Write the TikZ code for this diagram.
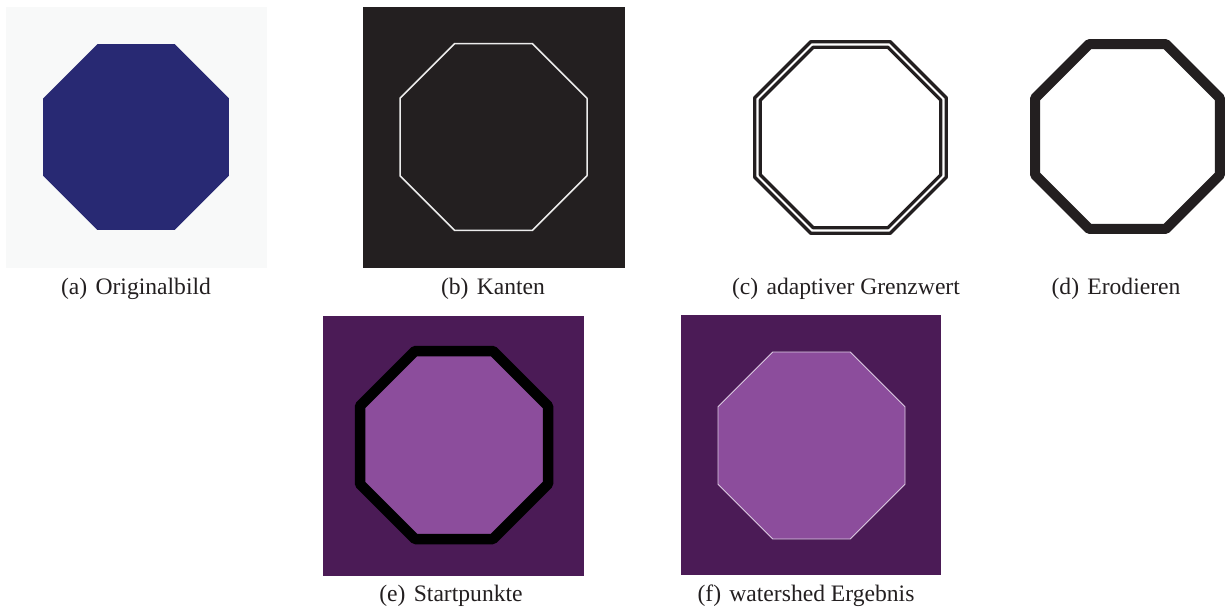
\documentclass[tikz,border=0pt]{standalone}
\usepackage{fontspec}
\setmainfont{Liberation Serif}
\usepackage{xcolor}
\usetikzlibrary{shapes.geometric}

\definecolor{paper}{RGB}{248,249,249}
\definecolor{navy}{RGB}{40,41,115}
\definecolor{coal}{RGB}{35,31,32}
\definecolor{edgeline}{RGB}{236,236,236}
\definecolor{plumdark}{RGB}{75,27,86}
\definecolor{plumlight}{RGB}{140,77,156}
\definecolor{plumedge}{RGB}{222,205,228}
\definecolor{captext}{RGB}{35,31,32}

\begin{document}
\begin{tikzpicture}[
  x=1pt, y=-1pt,
  font=\fontsize{23.6}{28}\selectfont,
  octo/.style={regular polygon, regular polygon sides=8, inner sep=0pt,
               outer sep=0pt, line join=round},
  orig/.style={octo, fill=navy, minimum size=201.3},
  edges/.style={octo, draw=edgeline, line width=1.5, minimum size=202.4},
  thresh/.style={octo, draw=coal, line width=3.3},
  eroded/.style={octo, draw=coal, line width=10, minimum size=200.2},
  seeds/.style={octo, fill=plumlight, draw=black, line width=10.5, minimum size=203.5},
  basin/.style={octo, fill=plumlight, draw=plumedge, line width=0.8, minimum size=202.4},
  subcap/.style={anchor=base, text=captext},
]
\useasboundingbox (0,0) rectangle (1226,610);

\fill[paper] (6,7) rectangle (267,268);
\node[orig] (octA) at (136,137) {};
\node[subcap] (capA) at (136,294) {(a)\hspace{0.35em}Originalbild};

\fill[coal] (363,7) rectangle (625,268);
\node[edges] (octB) at (493.5,137) {};
\node[subcap] (capB) at (493,294) {(b)\hspace{0.35em}Kanten};

\node[thresh, minimum size=207.4] (octCout) at (850.5,137.5) {};
\node[thresh, minimum size=195.3] (octCin) at (850.5,137.5) {};
\node[subcap] (capC) at (846,294) {(c)\hspace{0.35em}adaptiver Grenzwert};

\node[eroded] (octD) at (1127.5,136.5) {};
\node[subcap] (capD) at (1116,294) {(d)\hspace{0.35em}Erodieren};

\fill[plumdark] (323,316) rectangle (584,576);
\node[seeds] (octE) at (454,445) {};
\node[subcap] (capE) at (451,601) {(e)\hspace{0.35em}Startpunkte};

\fill[plumdark] (681,315) rectangle (941,575);
\node[basin] (octF) at (811.5,445.5) {};
\node[subcap] (capF) at (806,601) {(f)\hspace{0.35em}watershed Ergebnis};
\end{tikzpicture}
\end{document}
